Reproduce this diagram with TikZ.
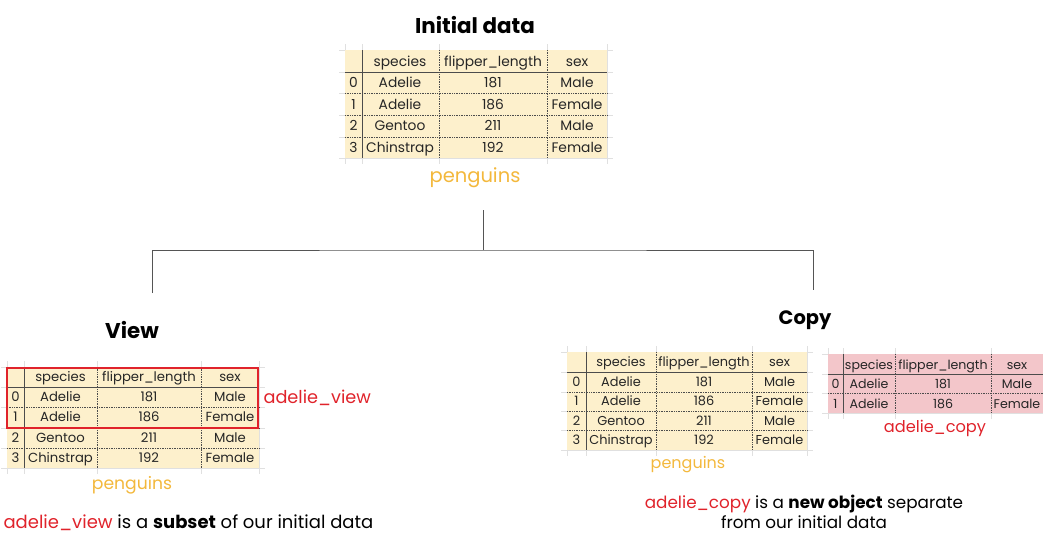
\documentclass[tikz,border=0pt]{standalone}
\usepackage{fontspec}
\setmainfont{Poppins}
\usetikzlibrary{calc}
\usetikzlibrary{math}
\definecolor{beige}{HTML}{FDF0CC}
\definecolor{rose}{HTML}{F3C6CA}
\definecolor{redtxt}{HTML}{E0232B}
\definecolor{orangetxt}{HTML}{F3B83C}
\definecolor{linegray}{HTML}{555555}

\tikzset{
    cell/.style={inner sep=0pt, text=black!85, text height=0.72em, text depth=0.22em, yshift=-2pt},
    big/.style={cell, font=\fontsize{13.8}{13.8}\selectfont},
    mid/.style={cell, font=\fontsize{13.2}{13.2}\selectfont},
    small/.style={cell, font=\fontsize{12.9}{12.9}\selectfont},
    tiny/.style={cell, font=\fontsize{12.6}{12.6}\selectfont},
    sep/.style={black!70, densely dotted, line width=0.7pt},
    rule/.style={black!70, line width=1pt},
    stub/.style={black!12, line width=0.6pt},
    title/.style={font=\fontsize{21.4}{21.4}\selectfont\bfseries},
    dfname/.style={text=orangetxt},
    varname/.style={text=redtxt},
    caption/.style={align=center}
}

\begin{document}
\begin{tikzpicture}[x=1pt,y=-1pt]
    \useasboundingbox (0,0) rectangle (1043,547);

    % initial data
    \node[title] (init) at (475,25) {Initial data};
    \foreach \x in {345,362,439,547,607} \draw[stub] (\x,44) -- (\x,164);
    \foreach \y in {50,72,93.5,115,137,158} \draw[stub] (339,\y) -- (613,\y);
    \fill[beige] (345,50) rectangle (607,158);
    \draw[rule] (362,50) -- (362,158);
    \draw[rule] (345,72) -- (607,72);
    \foreach \x in {439,547} \draw[sep] (\x,50) -- (\x,158);
    \foreach \y in {93.5,115,137} \draw[sep] (345,\y) -- (607,\y);
    \node[big] (ia-sp) at (400,61.5) {species};
    \node[big] (ia-fl) at (493,61.5) {flipper\_length};
    \node[big] (ia-sx) at (577,61.5) {sex};
    \foreach \i/\sp/\fl/\sx in {0/Adelie/181/Male,1/Adelie/186/Female,2/Gentoo/211/Male,3/Chinstrap/192/Female} {
        \node[big] (ia-\i) at (353.5,83+21.5*\i) {\i};
        \node[big] (ia-\i-sp) at (400,83+21.5*\i) {\sp};
        \node[big] (ia-\i-fl) at (493,83+21.5*\i) {\fl};
        \node[big] (ia-\i-sx) at (577,83+21.5*\i) {\sx};
    }
    \node[dfname, font=\fontsize{19.5}{19.5}\selectfont] (ia-name) at (475,178) {penguins};

    % tree
    \coordinate (stemtop) at (483,210);
    \coordinate (stembot) at (483,250);
    \coordinate (viewtop) at (152,293);
    \coordinate (copytop) at (813,290);
    \draw[linegray, line width=0.8pt] (stemtop) -- (stembot);
    \draw[linegray, line width=0.8pt] (viewtop) |- (stembot) -| (copytop);

    % view
    \node[title] (view) at (132,330) {View};
    \foreach \x in {7,24,97,201,259} \draw[stub] (\x,361) -- (\x,474);
    \foreach \y in {367,387,407,428,448,468} \draw[stub] (1,\y) -- (265,\y);
    \fill[beige] (7,367) rectangle (259,468);
    \draw[rule] (24,367) -- (24,468);
    \draw[rule] (7,387) -- (259,387);
    \foreach \x in {97,201} \draw[sep] (\x,367) -- (\x,468);
    \foreach \y in {407,428,448} \draw[sep] (7,\y) -- (259,\y);
    \node[mid] (vw-sp) at (60.5,377) {species};
    \node[mid] (vw-fl) at (149,377) {flipper\_length};
    \node[mid] (vw-sx) at (230,377) {sex};
    \foreach \i/\sp/\fl/\sx in {0/Adelie/181/Male,1/Adelie/186/Female,2/Gentoo/211/Male,3/Chinstrap/192/Female} {
        \node[mid] (vw-\i) at (15.5,397+20.3*\i) {\i};
        \node[mid] (vw-\i-sp) at (60.5,397+20.3*\i) {\sp};
        \node[mid] (vw-\i-fl) at (149,397+20.3*\i) {\fl};
        \node[mid] (vw-\i-sx) at (230,397+20.3*\i) {\sx};
    }
    \draw[redtxt, line width=1.6pt] (7,368) rectangle (258,428);
    \node[varname, anchor=west, font=\fontsize{17.7}{17.7}\selectfont] (vw-var) at (260,398) {adelie\_view};
    \node[dfname, font=\fontsize{17.2}{17.2}\selectfont] (vw-name) at (132,485) {penguins};
    \node[caption, anchor=west, font=\fontsize{18}{18}\selectfont] (vw-cap) at (0,523)
        {\textcolor{redtxt}{adelie\_view} is a \textbf{subset} of our initial data};

    % copy
    \node[title, font=\fontsize{19.4}{19.4}\selectfont\bfseries] (copy) at (805,320) {Copy};
    \foreach \x in {567,586,656,752,807} \draw[stub] (\x,346) -- (\x,456);
    \foreach \y in {352,372,392,411,430,450} \draw[stub] (561,\y) -- (813,\y);
    \fill[beige] (567,352) rectangle (807,450);
    \draw[rule] (586,352) -- (586,450);
    \draw[rule] (567,372) -- (807,372);
    \foreach \x in {656,752} \draw[sep] (\x,352) -- (\x,450);
    \foreach \y in {392,411,430} \draw[sep] (567,\y) -- (807,\y);
    \node[small] (cp-sp) at (621,362) {species};
    \node[small] (cp-fl) at (704,362) {flipper\_length};
    \node[small] (cp-sx) at (779.5,362) {sex};
    \foreach \i/\sp/\fl/\sx in {0/Adelie/181/Male,1/Adelie/186/Female,2/Gentoo/211/Male,3/Chinstrap/192/Female} {
        \node[small] (cp-\i) at (576.5,382+19.4*\i) {\i};
        \node[small] (cp-\i-sp) at (621,382+19.4*\i) {\sp};
        \node[small] (cp-\i-fl) at (704,382+19.4*\i) {\fl};
        \node[small] (cp-\i-sx) at (779.5,382+19.4*\i) {\sx};
    }
    \node[dfname, font=\fontsize{16}{16}\selectfont] (cp-name) at (688,465) {penguins};

    % adelie copy
    \foreach \x in {828,843,895,991} \draw[stub] (\x,348) -- (\x,419);
    \foreach \y in {354,374,393.5,413} \draw[stub] (822,\y) -- (1043,\y);
    \fill[rose] (828,354) rectangle (1043,413);
    \draw[rule] (843,354) -- (843,413);
    \draw[rule] (828,374) -- (1043,374);
    \foreach \x in {895,991} \draw[sep] (\x,354) -- (\x,413);
    \draw[sep] (828,393.5) -- (1043,393.5);
    \node[tiny] (ac-sp) at (869,365) {species};
    \node[tiny] (ac-fl) at (943,365) {flipper\_length};
    \node[tiny] (ac-sx) at (1017,365) {sex};
    \foreach \i/\sp/\fl/\sx in {0/Adelie/181/Male,1/Adelie/186/Female} {
        \node[tiny] (ac-\i) at (835.5,384+19.5*\i) {\i};
        \node[tiny] (ac-\i-sp) at (869,384+19.5*\i) {\sp};
        \node[tiny] (ac-\i-fl) at (943,384+19.5*\i) {\fl};
        \node[tiny] (ac-\i-sx) at (1017,384+19.5*\i) {\sx};
    }
    \node[varname, font=\fontsize{16.2}{16.2}\selectfont] (ac-var) at (935,428) {adelie\_copy};
    \node[caption, font=\fontsize{16.8}{20}\selectfont] (cp-cap) at (804,512)
        {\textcolor{redtxt}{adelie\_copy} is a \textbf{new object} separate\\from our initial data};
\end{tikzpicture}
\end{document}
